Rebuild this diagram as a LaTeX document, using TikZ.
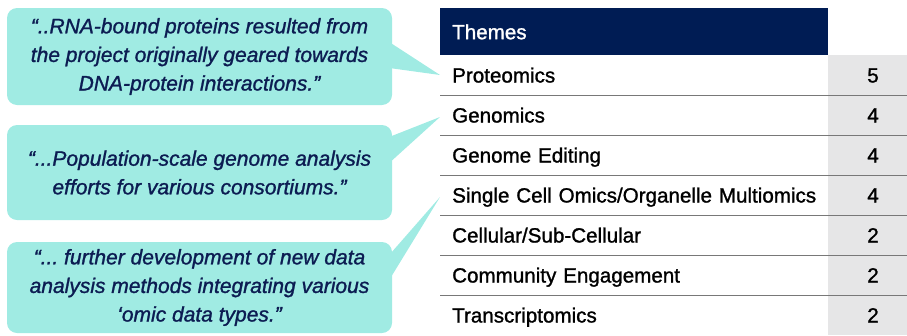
\documentclass[tikz,border=0pt]{standalone}
\usepackage{fontspec}
\setmainfont{Liberation Sans}
\newfontfamily\medium{Liberation Sans}[FakeBold=1.2]
\usetikzlibrary{calc}
\definecolor{navy}{RGB}{0,28,84}
\definecolor{quote}{RGB}{160,235,227}
\definecolor{ink}{RGB}{12,28,82}
\definecolor{cell}{RGB}{230,230,231}
\definecolor{rulegray}{RGB}{120,120,120}
\tikzset{qb/.style={fill=quote,rounded corners=10pt,minimum width=385pt,inner sep=0pt,align=center,text=ink,font=\fontsize{21}{28.6}\selectfont\medium\itshape}}
\tikzset{th/.style={anchor=west,minimum height=40pt,text width=372pt,inner xsep=12pt,inner ysep=0pt,text height=15pt,text depth=0pt,font=\fontsize{20.6}{24}\selectfont\medium}}
\tikzset{hd/.style={th,anchor=north west,text width=364pt,minimum height=47pt,fill=navy,text=white}}
\tikzset{nb/.style={inner sep=0pt,text height=15pt,text depth=0pt,font=\fontsize{20.6}{24}\selectfont\medium}}
\tikzset{tl/.style={fill=quote}}
\tikzset{sl/.style={draw=rulegray,line width=1.3pt}}

\begin{document}
\frenchspacing
\begin{tikzpicture}[x=1pt,y=-1pt]
  \useasboundingbox (0,0) rectangle (907,335);
  \coordinate (rt) at (907,0);
  \fill[cell] (828,55) rectangle (907,335);
  % table
  \node[hd] (hd) at (440,8) {Themes};
  \node[th] (r1) at (440,75) {Proteomics};
  \node[th] (r2) at (440,115) {Genomics};
  \node[th] (r3) at (440,155) {Genome Editing};
  \node[th] (r4) at (440,195) {Single Cell Omics/Organelle Multiomics};
  \node[th] (r5) at (440,235) {Cellular/Sub-Cellular};
  \node[th] (r6) at (440,275) {Community Engagement};
  \node[th] (r7) at (440,315) {Transcriptomics};
  \node[nb] (n1) at (873,75) {5};
  \node[nb] (n2) at (873,115) {4};
  \node[nb] (n3) at (873,155) {4};
  \node[nb] (n4) at (873,195) {4};
  \node[nb] (n5) at (873,235) {2};
  \node[nb] (n6) at (873,275) {2};
  \node[nb] (n7) at (873,315) {2};
  \draw[sl] (r1.south west) -- (r1.south west -| rt);
  \draw[sl] (r2.south west) -- (r2.south west -| rt);
  \draw[sl] (r3.south west) -- (r3.south west -| rt);
  \draw[sl] (r4.south west) -- (r4.south west -| rt);
  \draw[sl] (r5.south west) -- (r5.south west -| rt);
  \draw[sl] (r6.south west) -- (r6.south west -| rt);
  % quotes
  \node[qb,minimum height=97pt] (b1) at (199.5,56.5) {“..RNA-bound proteins resulted from\\the project originally geared towards\\DNA-protein interactions.”};
  \node[qb,minimum height=95pt] (b2) at (199.5,172.5) {“...Population-scale genome analysis\\efforts for various consortiums.”};
  \node[qb,minimum height=91pt] (b3) at (199.5,287.5) {“...\ further development of new data\\analysis methods integrating various\\‘omic data types.”};
  \fill[tl] ($(b1.east)+(-3,-14.5)$) -- (r1.west) -- ($(b1.east)+(-3,11.5)$) -- cycle;
  \fill[tl] ($(b2.east)+(-3,-35.5)$) -- ($(r2.west)+(0,2)$) -- ($(b2.east)+(-3,-9.5)$) -- cycle;
  \fill[tl] ($(b3.east)+(-3,-32.5)$) -- ($(r4.west)+(0,2)$) -- ($(b3.east)+(-3,-7.5)$) -- cycle;
\end{tikzpicture}
\end{document}
